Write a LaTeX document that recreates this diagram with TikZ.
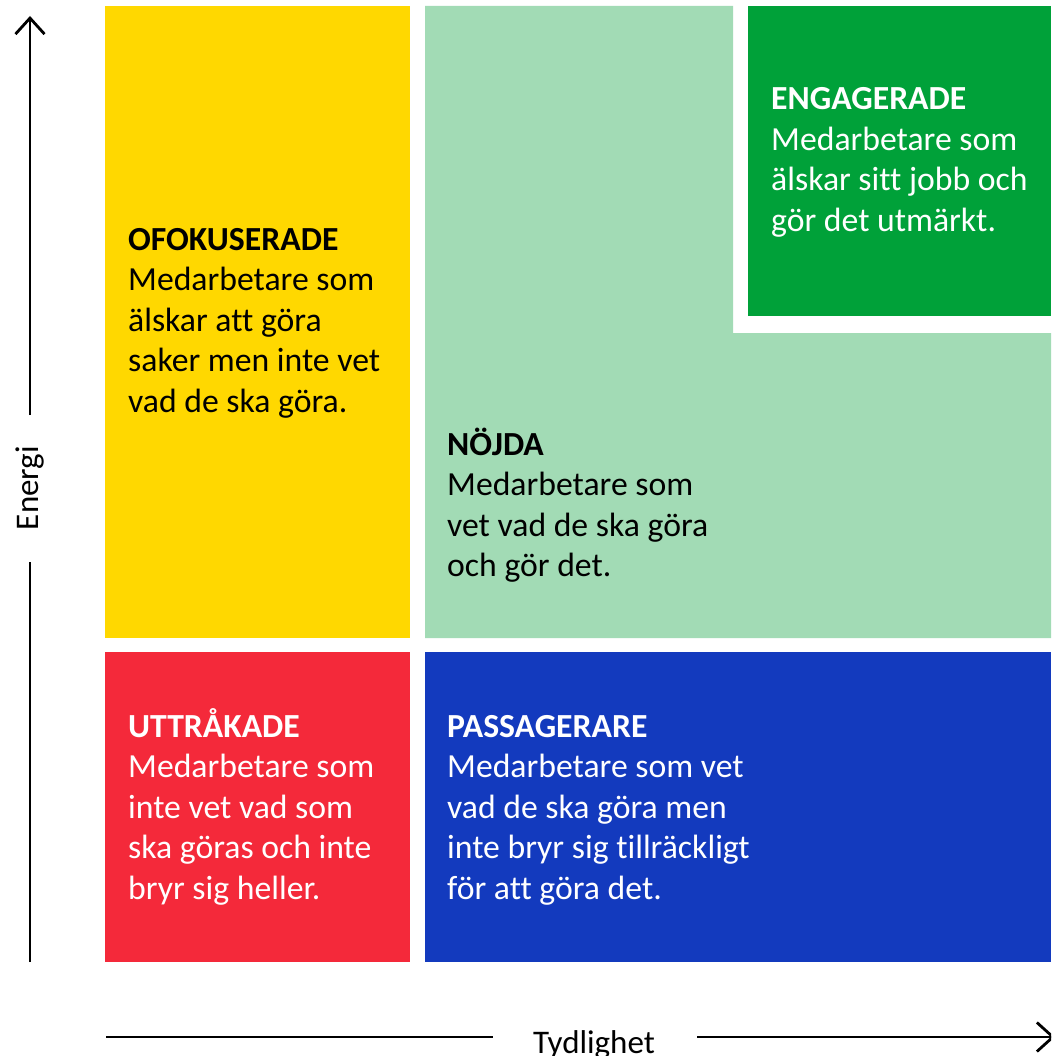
\documentclass[tikz,border=0pt]{standalone}
\usepackage{fontspec}
\setmainfont{Carlito}[Ligatures=NoCommon]
\usetikzlibrary{arrows.meta}
\definecolor{cyellow}{RGB}{255,216,0}
\definecolor{cred}{RGB}{244,41,58}
\definecolor{clgreen}{RGB}{162,219,181}
\definecolor{cdgreen}{RGB}{0,161,57}
\definecolor{cblue}{RGB}{19,58,190}
\tikzset{
  txt/.style={anchor=base west, inner sep=0pt, align=left, font=\fontsize{33.7}{40.5}\selectfont},
  axislbl/.style={inner sep=0pt, font=\fontsize{33}{40}\selectfont},
  axisline/.style={line width=2.8pt, black},
  axisarrow/.style={axisline, -{Straight Barb[length=16pt, width=29pt, line width=2.8pt]}}
}
\begin{document}
\begin{tikzpicture}[x=1pt, y=-1pt]
\useasboundingbox (0,0) rectangle (1051,1056);
\clip (0,0) rectangle (1051,1056);
% quadrants
\fill[cyellow] (105,6) rectangle (410,638);
\fill[cred] (105,652) rectangle (410,962);
\fill[clgreen] (425,6) -- (733,6) -- (733,333) -- (1051,333) -- (1051,638) -- (425,638) -- cycle;
\fill[cdgreen] (748,6) rectangle (1051,316);
\fill[cblue] (425,652) rectangle (1051,962);
% texts (base anchor = baseline of last line)
\node[txt] (ofok) at (128,412) {\textbf{OFOKUSERADE}\\Medarbetare som\\älskar att göra\\saker men inte vet\\vad de ska göra.};
\node[txt, text=white] (eng) at (771,231.5) {\textbf{ENGAGERADE}\\Medarbetare som\\älskar sitt jobb och\\gör det utmärkt.};
\node[txt] (nojd) at (447,576.5) {\textbf{NÖJDA}\\Medarbetare som\\vet vad de ska göra\\och gör det.};
\node[txt, text=white] (uttr) at (128,899) {\textbf{UTTRÅKADE}\\Medarbetare som\\inte vet vad som\\ska göras och inte\\bryr sig heller.};
\node[txt, text=white] (pass) at (447,899) {\textbf{PASSAGERARE}\\Medarbetare som vet\\vad de ska göra men\\inte bryr sig tillräckligt\\för att göra det.};
% axes
\node[axislbl, rotate=90, anchor=base] (energi) at (38,488) {Energi};
\node[axislbl, anchor=base] (tydl) at (594,1053) {Tydlighet};
\coordinate (ybot) at (30,962);
\coordinate (ytop) at (30,16);
\coordinate (xleft) at (106,1037);
\coordinate (xright) at (1055,1037);
\draw[axisline] (ybot) -- (ybot |- 0,562);
\draw[axisarrow] (ytop |- 0,415) -- (ytop);
\draw[axisline] (xleft) -- (493,1037);
\draw[axisarrow] (697,1037) -- (xright);
\end{tikzpicture}
\end{document}
